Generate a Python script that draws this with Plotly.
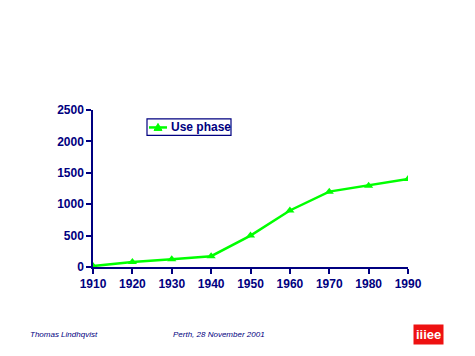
import plotly.graph_objects as go

years = [1910, 1920, 1930, 1940, 1950, 1960, 1970, 1980, 1990]
use_phase = [15, 78, 125, 172, 500, 900, 1200, 1295, 1400]
y_ticks = [0, 500, 1000, 1500, 2000, 2500]
x_ticks = years
series_name = "Use phase"

navy = "#000080"
green = "#00FF00"
font_family = "Liberation Sans, Arial, sans-serif"

# page body has an 8px default margin; compensate
OFF = 8
W, H = 475 - OFF, 356 - OFF
# screen-coordinate plot area in the reference
sx0, sx1, sy0, sy1 = 93, 408, 110, 267.5
ml = sx0 - OFF
mt = sy0 - OFF
mr = W - (sx1 - OFF)
mb = H - (sy1 - OFF)
pw = sx1 - sx0
ph = sy1 - sy0


def PX(sx):
    return (sx - sx0) / pw


def PY(sy):
    return (sy1 - sy) / ph


fig = go.Figure()
fig.add_trace(go.Scatter(
    x=years, y=use_phase, mode="lines+markers", name=series_name,
    line=dict(color=green, width=2.5),
    marker=dict(symbol="triangle-up", size=8, color=green),
    showlegend=False,
))

fig.update_layout(
    width=W, height=H,
    margin=dict(l=ml, r=mr, t=mt, b=mb, pad=0),
    paper_bgcolor="white", plot_bgcolor="white",
    font=dict(family=font_family, color=navy, size=11),
    showlegend=False,
    xaxis=dict(
        range=[1910, 1990], tickvals=x_ticks, ticktext=[str(v) for v in x_ticks],
        showgrid=False, zeroline=False, showline=True, linecolor=navy, linewidth=1.5,
        ticks="outside", ticklen=5, tickcolor=navy, tickwidth=1.5,
        tickfont=dict(family=font_family, size=12, color=navy, weight="bold"),
        fixedrange=True,
    ),
    yaxis=dict(
        range=[0, 2500], tickvals=y_ticks,
        showgrid=False, zeroline=False, showline=True, linecolor=navy, linewidth=1.5,
        ticks="outside", ticklen=5, tickcolor=navy, tickwidth=1.5,
        tickfont=dict(family=font_family, size=12, color=navy, weight="bold"),
        fixedrange=True,
    ),
)

# custom legend box
fig.add_shape(type="rect", xref="paper", yref="paper",
              x0=PX(147), x1=PX(231), y0=PY(135.5), y1=PY(119),
              line=dict(color=navy, width=1.2), fillcolor="white", layer="above")
fig.add_shape(type="line", xref="paper", yref="paper",
              x0=PX(149), x1=PX(167), y0=PY(127.5), y1=PY(127.5),
              line=dict(color=green, width=2.5), layer="above")
fig.add_shape(type="path", xref="paper", yref="paper",
              path=f"M {PX(154)},{PY(130.5)} L {PX(162)},{PY(130.5)} L {PX(158)},{PY(123.5)} Z",
              line=dict(color=green, width=1), fillcolor=green, layer="above")
fig.add_annotation(
    text=f"<b>{series_name}</b>", xref="paper", yref="paper",
    x=PX(168.5), y=PY(127.5), xanchor="left", yanchor="middle", showarrow=False,
    font=dict(family=font_family, size=12, color=navy),
)

fig.add_annotation(
    text="<i>Thomas Lindhqvist</i>", xref="paper", yref="paper",
    x=PX(28), y=PY(335), xanchor="left", yanchor="middle", showarrow=False,
    font=dict(family=font_family, size=8, color=navy),
)
fig.add_annotation(
    text="<i>Perth, 28 November 2001</i>", xref="paper", yref="paper",
    x=PX(171), y=PY(335), xanchor="left", yanchor="middle", showarrow=False,
    font=dict(family=font_family, size=8, color=navy),
)
fig.add_annotation(
    text="<b>iiiee</b>", xref="paper", yref="paper",
    x=PX(428.5), y=PY(335.5), xanchor="center", yanchor="middle", showarrow=False,
    bgcolor="#EE1111", borderpad=2,
    font=dict(family=font_family, size=13, color="white"),
)

fig.write_html("out.html")
